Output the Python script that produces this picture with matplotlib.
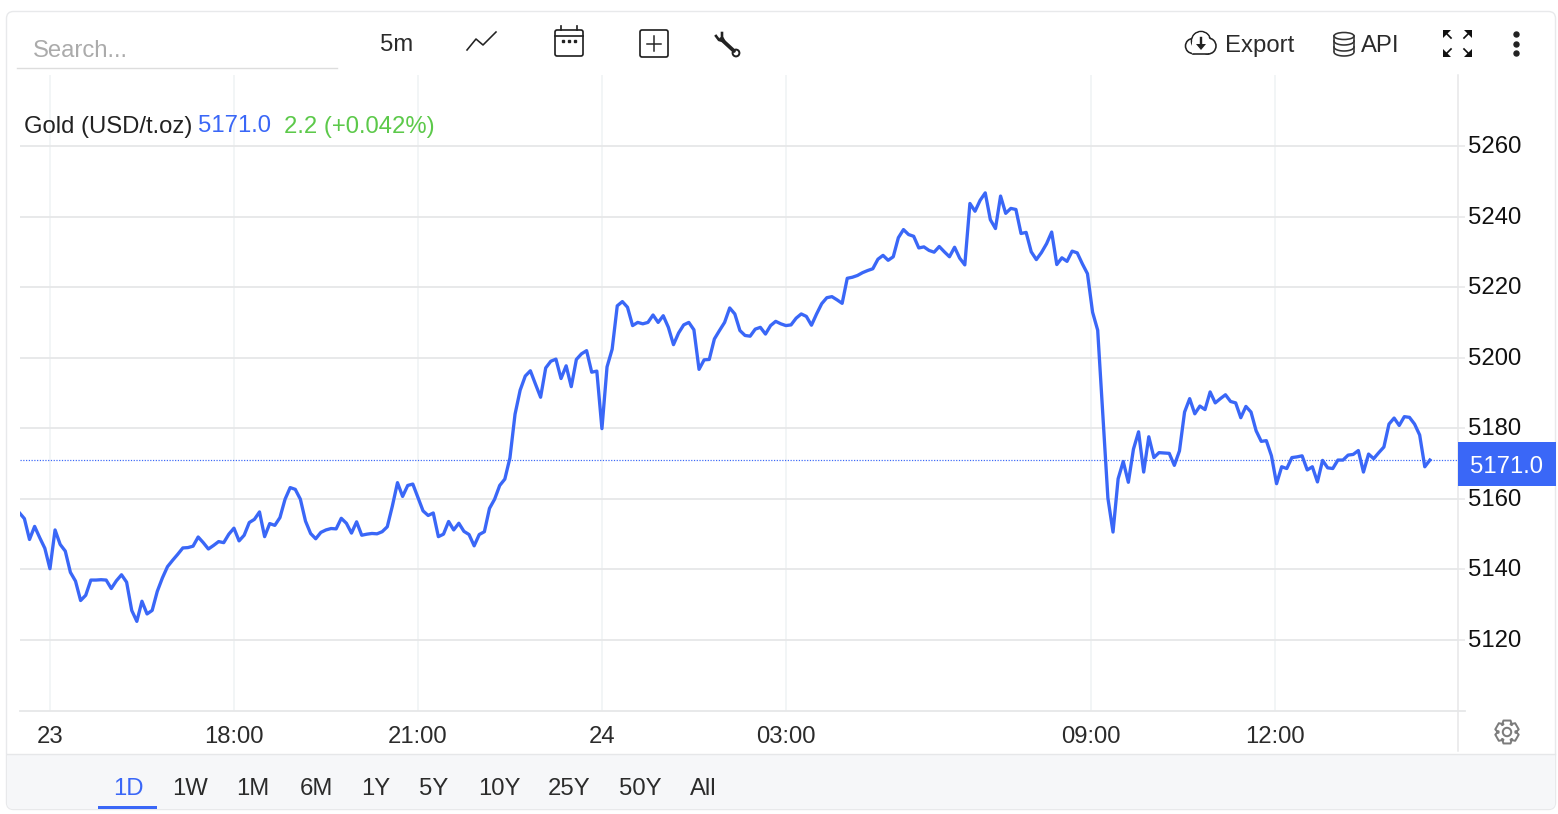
import matplotlib
matplotlib.use('Agg')
import matplotlib.pyplot as plt
from matplotlib.patches import FancyBboxPatch, Rectangle, Circle, Polygon, Ellipse
from matplotlib.transforms import ScaledTranslation
import numpy as np

plt.rcParams['font.family'] = ['Liberation Sans', 'DejaVu Sans']

# 5 minute closes
prices = [
    5156.1, 5154.4, 5148.5, 5152.2, 5149.0, 5146.0, 5140.2, 5151.2, 5147.1, 5145.2,
    5139.2, 5136.7, 5131.2, 5132.7, 5137.0, 5137.0, 5137.1, 5137.0, 5134.6, 5136.8,
    5138.5, 5136.4, 5128.4, 5125.3, 5131.0, 5127.4, 5128.4, 5133.8, 5137.6, 5140.8,
    5142.6, 5144.3, 5146.1, 5146.2, 5146.6, 5149.2, 5147.6, 5145.8, 5146.8, 5147.9,
    5147.6, 5150.0, 5151.7, 5148.1, 5149.7, 5153.3, 5154.2, 5156.3, 5149.3, 5153.0,
    5152.5, 5154.7, 5159.9, 5163.2, 5162.7, 5159.9, 5153.7, 5150.2, 5148.7, 5150.5,
    5151.2, 5151.6, 5151.5, 5154.5, 5153.1, 5150.3, 5153.5, 5149.7, 5150.0, 5150.2,
    5150.1, 5150.7, 5152.1, 5158.0, 5164.6, 5160.7, 5163.8, 5164.2, 5160.4, 5156.6,
    5155.3, 5156.0, 5149.3, 5150.0, 5153.6, 5151.2, 5153.1, 5150.8, 5149.9, 5146.7,
    5149.9, 5150.7, 5157.3, 5159.9, 5163.8, 5165.6, 5171.6, 5184.0, 5190.8, 5194.8,
    5196.3, 5192.5, 5188.8, 5197.1, 5199.0, 5199.6, 5194.1, 5197.7, 5191.8, 5199.5,
    5201.1, 5202.0, 5195.9, 5196.2, 5179.9, 5197.4, 5202.4, 5214.7, 5215.9, 5214.3,
    5209.1, 5210.0, 5209.6, 5210.0, 5212.1, 5210.0, 5211.9, 5208.6, 5203.7, 5207.0,
    5209.3, 5210.0, 5207.9, 5196.7, 5199.4, 5199.5, 5205.3, 5207.7, 5210.0, 5214.1,
    5212.4, 5207.7, 5206.3, 5206.1, 5208.1, 5208.6, 5206.7, 5209.1, 5210.3, 5209.6,
    5209.1, 5209.3, 5211.2, 5212.4, 5211.7, 5209.2, 5212.4, 5215.3, 5217.0, 5217.3,
    5216.4, 5215.4, 5222.5, 5222.8, 5223.3, 5224.1, 5224.7, 5225.2, 5227.9, 5229.0,
    5227.6, 5228.6, 5234.0, 5236.3, 5234.9, 5234.4, 5231.1, 5231.4, 5230.4, 5229.9,
    5231.5, 5230.0, 5228.6, 5231.3, 5228.2, 5226.3, 5243.7, 5241.5, 5244.6, 5246.7,
    5239.1, 5236.6, 5245.8, 5240.9, 5242.3, 5242.0, 5235.2, 5235.5, 5230.0, 5227.8,
    5229.8, 5232.3, 5235.6, 5226.4, 5228.3, 5227.3, 5230.2, 5229.7, 5226.6, 5223.8,
    5212.9, 5207.8, 5183.8, 5160.2, 5150.6, 5165.7, 5170.6, 5164.7, 5174.1, 5179.0,
    5167.6, 5177.6, 5171.7, 5173.1, 5173.0, 5172.9, 5169.5, 5173.6, 5184.6, 5188.4,
    5184.1, 5186.3, 5185.3, 5190.3, 5187.2, 5188.4, 5189.5, 5187.6, 5187.2, 5183.0,
    5186.2, 5184.6, 5179.3, 5176.3, 5176.5, 5172.2, 5164.3, 5169.1, 5168.6, 5171.7,
    5171.9, 5172.2, 5168.2, 5169.1, 5164.8, 5170.9, 5168.8, 5168.6, 5171.0, 5171.0,
    5172.4, 5172.6, 5173.7, 5167.6, 5172.7, 5171.4, 5173.1, 5174.7, 5181.2, 5182.9,
    5180.8, 5183.3, 5183.1, 5181.2, 5178.1, 5169.1, 5171.0,
]
last_price = 5171.0
change = '2.2 (+0.042%)'
x_ticks = [6, 42, 78, 114, 150, 209.7, 245.7]
x_labels = ['23', '18:00', '21:00', '24', '03:00', '09:00', '12:00']
y_ticks = [5120, 5140, 5160, 5180, 5200, 5220, 5240, 5260]
range_labels = ['1D', '1W', '1M', '6M', '1Y', '5Y', '10Y', '25Y', '50Y', 'All']
range_x = [128, 190, 253, 316, 376, 434, 499, 569, 640, 703]

BLUE = '#3a67f7'
GREEN = '#5cc94a'
DARK = '#2b2b2b'
W, H = 1558, 814
PX = 0.72  # one pixel in points

fig = plt.figure(figsize=(W / 100, H / 100), dpi=100, facecolor='white')

# page layer in pixel coordinates, for the card and toolbar
bg = fig.add_axes([0, 0, 1, 1], zorder=0)
bg.set_xlim(0, W)
bg.set_ylim(H, 0)
bg.axis('off')

card = FancyBboxPatch((6.5, 11.5), 1549, 798, boxstyle='round,pad=0,rounding_size=7',
                      fc='white', ec='#e8e9eb', lw=1.4 * PX)
bg.add_patch(card)
strip = FancyBboxPatch((7, 754), 1548, 55, boxstyle='round,pad=0,rounding_size=6',
                       fc='#f6f7f9', ec='none')
bg.add_patch(strip)
bg.add_patch(Rectangle((7, 754), 1548, 20, fc='#f6f7f9', ec='none'))
bg.plot([7, 1555], [753.5, 753.5], color='#e6e7e9', lw=1.4 * PX)
bg.plot([17, 337], [67.5, 67.5], color='#dddddd', lw=1.4 * PX)

# chart
ax = fig.add_axes([20 / W, 1 - 711 / H, (1458 - 20) / W, (711 - 75) / H], zorder=1)
ax.patch.set_alpha(0)
ax.plot(range(len(prices)), prices, color=BLUE, lw=3.3 * PX, solid_joinstyle='round', zorder=3)
ax.axhline(last_price, color=BLUE, lw=1.2 * PX, ls=(0, (1, 1.3)), zorder=2)
ax.set_xlim(0.14, 281.5)
ax.set_ylim(5099.9, 5280.1)
ax.set_xticks(x_ticks, x_labels)
ax.set_yticks(y_ticks)
ax.yaxis.tick_right()
ax.grid(axis='y', color='#e6e7e8', lw=1.8 * PX, zorder=1)
ax.grid(axis='x', color='#f0f3f5', lw=1.6 * PX, zorder=1)
ax.tick_params(axis='x', length=0, pad=11, labelsize=17.2, labelcolor=DARK)
ax.tick_params(axis='y', length=7 * PX, width=1.5 * PX, color='#e6e7e8', pad=2, labelsize=17.2, labelcolor='#111111')
for lab in ax.get_yticklabels():
    lab.set_transform(lab.get_transform() + ScaledTranslation(0, 1.5 / 72 * PX, fig.dpi_scale_trans))
for s in ['top', 'left']:
    ax.spines[s].set_visible(False)
ax.spines['bottom'].set_color('#e6e7e8')
ax.spines['bottom'].set_linewidth(1.8 * PX)
ax.spines['right'].set_color('#e6e7e8')
ax.spines['right'].set_linewidth(1.5 * PX)
ax.set_axisbelow(True)

# overlay for labels and icons, also in pixels
fg = fig.add_axes([0, 0, 1, 1], zorder=2)
fg.set_xlim(0, W)
fg.set_ylim(H, 0)
fg.axis('off')

FS = 17.2
fg.plot([1458, 1458], [711, 751], color='#e6e7e8', lw=1.5 * PX)
fg.plot([1458, 1465], [711, 711], color='#e6e7e8', lw=1.8 * PX)
fg.text(33, 51, 'Search...', fontsize=FS, color='#ababab', va='center')
fg.text(397, 45, '5m', fontsize=FS, color=DARK, ha='center', va='center')
fg.text(24, 126.5, 'Gold (USD/t.oz)', fontsize=FS, color='#222222', va='center')
fg.text(198, 126.5, f'{last_price:.1f}', fontsize=FS, color=BLUE, va='center')
fg.text(284, 126.5, change, fontsize=FS, color=GREEN, va='center')
fg.text(1225, 46, 'Export', fontsize=FS, color=DARK, va='center')
fg.text(1361, 46, 'API', fontsize=FS, color=DARK, va='center')

# last price tag
fg.add_patch(Rectangle((1458, 442), 98, 44, fc=BLUE, ec='none'))
fg.text(1507, 467, f'{last_price:.1f}', fontsize=FS, color='white', ha='center', va='center')

# range selector
for lab, xp in zip(range_labels, range_x):
    fg.text(xp, 789, lab, fontsize=FS, ha='center', va='center', color=BLUE if lab == '1D' else DARK)
fg.add_patch(Rectangle((98, 806), 59, 2.6, fc=BLUE, ec='none'))

ICON = '#222222'
# line icon
fg.plot([467, 476, 483, 496], [50, 39, 45, 32], color=ICON, lw=1.6 * PX)
# calendar
fg.add_patch(FancyBboxPatch((555, 30), 28, 26, boxstyle='round,pad=0,rounding_size=2', fc='none', ec=ICON, lw=1.7 * PX))
fg.plot([555, 583], [36, 36], color=ICON, lw=1.7 * PX)
fg.plot([561, 561], [26, 30], color=ICON, lw=1.7 * PX)
fg.plot([577, 577], [26, 30], color=ICON, lw=1.7 * PX)
fg.plot([563, 569, 575], [41, 41, 41], ls='none', marker='s', ms=1.8, color=ICON)
# plus box
fg.add_patch(FancyBboxPatch((640, 30), 28, 27, boxstyle='round,pad=0,rounding_size=2', fc='none', ec=ICON, lw=1.7 * PX))
fg.plot([647, 661], [43.5, 43.5], color=ICON, lw=1.5 * PX)
fg.plot([654, 654], [36, 51], color=ICON, lw=1.5 * PX)
# wrench
fg.plot([721, 734], [39, 51], color=ICON, lw=3.8 * PX, solid_capstyle='round')
fg.plot([716, 719, 723], [36, 40, 41], color=ICON, lw=2.6 * PX)
fg.plot([722, 722, 724], [33, 37, 41], color=ICON, lw=2.6 * PX)
fg.add_patch(Circle((736, 53), 3.4, fc='white', ec=ICON, lw=2 * PX))
# cloud
for c_x, c_y, r in [(1193, 46, 7.5), (1201, 41, 9.5), (1208, 46, 8)]:
    fg.add_patch(Circle((c_x, c_y), r, fc='white', ec=ICON, lw=1.6 * PX))
fg.add_patch(Rectangle((1192, 42), 16, 11.5, fc='white', ec='none', zorder=3))
fg.add_patch(Circle((1201, 41), 8.6, fc='white', ec='none', zorder=3))
fg.plot([1193, 1208], [53.5, 53.5], color=ICON, lw=1.6 * PX, zorder=4)
fg.plot([1201, 1201], [38, 46], color=ICON, lw=2.4 * PX, zorder=4)
fg.add_patch(Polygon([[1196, 44], [1206, 44], [1201, 50]], fc=ICON, ec='none', zorder=4))
# database
fg.add_patch(Rectangle((1335, 38), 18, 16, fc='white', ec='none', zorder=3))
fg.plot([1334, 1334], [36, 51], color='#333333', lw=1.6 * PX, zorder=4)
fg.plot([1354, 1354], [36, 51], color='#333333', lw=1.6 * PX, zorder=4)
for yy in [41, 47, 52]:
    t = np.linspace(0, np.pi, 20)
    fg.plot(1344 + 10 * np.cos(t), yy + 4 * np.sin(t), color='#333333', lw=1.6 * PX, zorder=4)
fg.add_patch(Ellipse((1344, 36), 20, 7, fc='white', ec='#333333', lw=1.6 * PX, zorder=4))
# expand arrows
for sx, sy, tx, ty in [(1443, 30, 1, 1), (1472, 30, -1, 1), (1443, 57, 1, -1), (1472, 57, -1, -1)]:
    fg.plot([sx + tx * 8, sx + tx * 2], [sy + ty * 8, sy + ty * 2], color='#111111', lw=1.7 * PX)
    fg.add_patch(Polygon([[sx, sy], [sx + tx * 8, sy], [sx, sy + ty * 8]], fc='#111111', ec='none'))
# more dots
fg.plot([1516, 1516, 1516], [34, 44, 53], ls='none', marker='o', ms=3.6, color='#222222')
# gear
ang = np.linspace(0, 2 * np.pi, 6, endpoint=False) + np.pi / 2
pts = []
for a in ang:
    for da, r in [(-0.62, 8.5), (-0.3, 12), (0.3, 12), (0.62, 8.5)]:
        pts.append([1507 + r * np.cos(a + da), 732 + r * np.sin(a + da)])
fg.add_patch(Polygon(pts, closed=True, fc='white', ec='#7c7c7c', lw=2 * PX, joinstyle='round'))
fg.add_patch(Circle((1507, 732), 4.2, fc='white', ec='#7c7c7c', lw=2 * PX))

fig.savefig('out.png', dpi=100, facecolor='white')
